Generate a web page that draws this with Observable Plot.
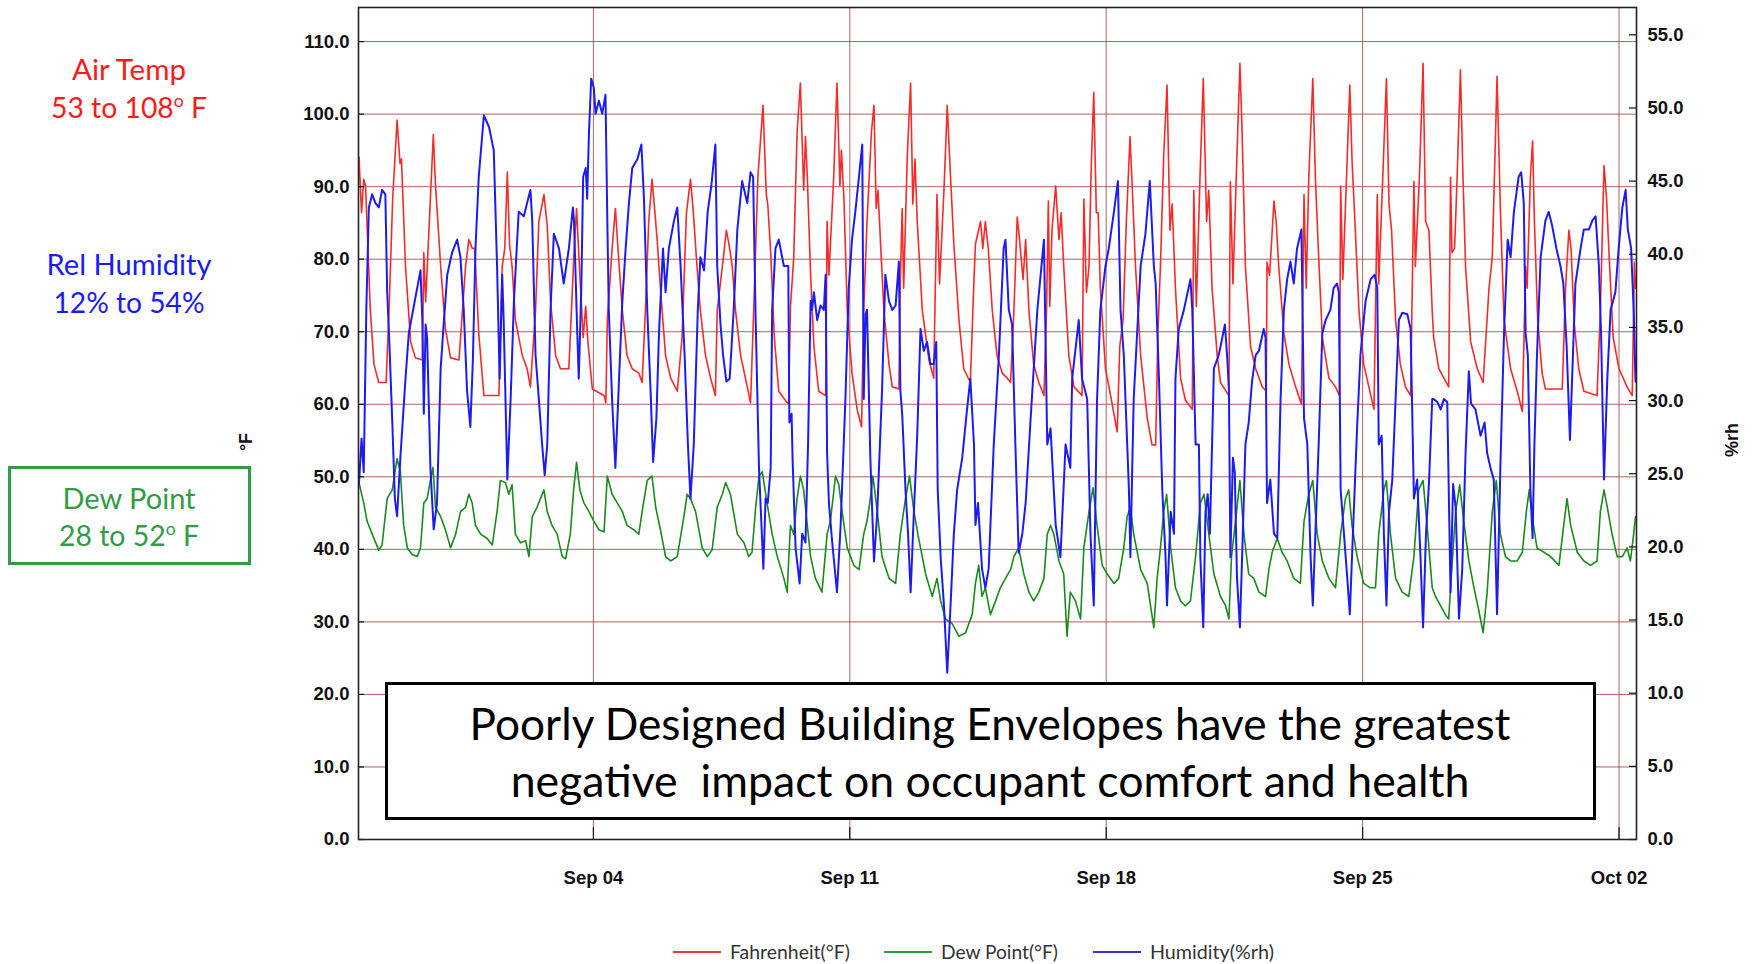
<!DOCTYPE html>
<html>
<head>
<meta charset="utf-8">
<script src="https://cdn.jsdelivr.net/npm/d3@7"></script>
<script src="https://cdn.jsdelivr.net/npm/@observablehq/plot@0.6"></script>
<style>
  html, body { margin: 0; padding: 0; background: #fff; }
  #wrap { position: relative; width: 1754px; height: 964px; overflow: hidden; font-family: Lato, "Noto Sans", sans-serif; }
  #chart { position: absolute; left: 0; top: 0; }
  .ann { position: absolute; white-space: pre; line-height: 1; transform: translate(-50%, -50%); }
  .ann sup { font-size: 0.62em; line-height: 0; vertical-align: 0.62em; }
  .lg { position: absolute; white-space: pre; line-height: 1; transform: translate(0, -50%); color: #333; font-size: 18px; }
  .lgline { position: absolute; height: 2px; transform: translate(0, -50%); }
  .axlab { position: absolute; font-family: "Liberation Sans", Arial, sans-serif; font-weight: bold; font-size: 18px; color: #111; transform: translate(-50%, -50%) rotate(-90deg); white-space: pre; line-height: 1; }
</style>
</head>
<body>
<div id="wrap">
  <div id="chart"></div>

  <div class="ann fit" data-w="114" style="left:129px; top:69px; color:#ff1a1a; font-size:27px;">Air Temp</div>
  <div class="ann fit" data-w="156" style="left:129px; top:107px; color:#ff1a1a; font-size:27px;">53 to 108<sup>o</sup> F</div>

  <div class="ann fit" data-w="165" style="left:129px; top:264px; color:#1a1aff; font-size:27px;">Rel Humidity</div>
  <div class="ann fit" data-w="151" style="left:129px; top:302px; color:#1a1aff; font-size:27px;">12% to 54%</div>

  <div style="position:absolute; left:8px; top:466px; width:243px; height:99px; box-sizing:border-box; border:3px solid #2f9c48; background:#fff;"></div>
  <div class="ann fit" data-w="133" style="left:129px; top:497px; color:#2f9c48; font-size:27px;">Dew Point</div>
  <div class="ann fit" data-w="140" style="left:129px; top:535px; color:#2f9c48; font-size:27px;">28 to 52<sup>o</sup> F</div>

  <div class="axlab" style="left:246px; top:442px;">°F</div>
  <div class="axlab" style="left:1732px; top:440px;">%rh</div>

  <div style="position:absolute; left:385px; top:682px; width:1211px; height:138px; box-sizing:border-box; border:3.5px solid #000; background:#fff;"></div>
  <div class="ann fit" data-w="1041" style="left:990px; top:723px; color:#000; font-size:40px;">Poorly Designed Building Envelopes have the greatest</div>
  <div class="ann fit" data-w="959" style="left:990px; top:780px; color:#000; font-size:40px;">negative  impact on occupant comfort and health</div>

  <div class="lgline" style="left:673px; top:952px; width:48px; background:#e8383a;"></div>
  <div class="lg fit" data-w="120" style="left:730px; top:952px;">Fahrenheit(°F)</div>
  <div class="lgline" style="left:884px; top:952px; width:48px; background:#2f9a3c;"></div>
  <div class="lg fit" data-w="117" style="left:941px; top:952px;">Dew Point(°F)</div>
  <div class="lgline" style="left:1093px; top:952px; width:48px; background:#3535d8;"></div>
  <div class="lg fit" data-w="124" style="left:1150px; top:952px;">Humidity(%rh)</div>
</div>

<script>
// ---------------- DATA (time = days since Aug 28 00:00) ----------------
const startDate = "2017-08-28";
const xTickDates = ["2017-09-04", "2017-09-11", "2017-09-18", "2017-09-25", "2017-10-02"];
const yTicksF = [0, 10, 20, 30, 40, 50, 60, 70, 80, 90, 100, 110];
const yTicksRH = [0, 5, 10, 15, 20, 25, 30, 35, 40, 45, 50, 55];

const tempF = [
[0.60,94.1],[0.67,86.4],[0.73,91.0],[0.78,90.1],[0.91,72.9],[1.01,65.5],[1.14,63.0],[1.34,63.0],[1.42,72.9],[1.52,88.3],[1.64,99.2],[1.72,93.2],[1.76,93.8],[1.87,79.0],[2.01,68.6],[2.14,66.4],[2.33,66.1],[2.37,80.9],[2.42,74.1],[2.51,84.0],[2.63,97.2],[2.69,90.1],[2.73,87.0],[2.83,79.0],[2.96,70.4],[3.10,66.4],[3.33,66.1],[3.51,79.0],[3.60,82.7],[3.69,81.5],[3.76,81.5],[3.87,69.8],[4.01,61.2],[4.42,61.2],[4.51,79.0],[4.58,81.5],[4.65,92.0],[4.71,82.1],[4.78,79.0],[4.87,71.6],[5.06,66.7],[5.19,64.9],[5.28,62.4],[5.42,72.9],[5.51,85.2],[5.65,88.9],[5.74,84.6],[5.83,74.1],[5.97,66.7],[6.10,64.9],[6.33,64.9],[6.47,80.9],
[6.54,87.0],[6.63,77.8],[6.72,69.2],[6.79,73.5],[6.85,68.6],[6.97,62.1],[7.29,61.2],[7.34,60.2],[7.38,71.6],[7.51,81.5],[7.60,87.0],[7.67,81.5],[7.79,72.9],[7.92,66.7],[8.06,64.9],[8.24,64.3],[8.33,63.0],[8.42,72.9],[8.51,85.2],[8.60,91.0],[8.67,87.0],[8.74,82.7],[8.83,76.0],[8.97,66.7],[9.11,63.6],[9.29,61.8],[9.42,69.2],[9.54,86.4],[9.65,91.0],[9.72,87.0],[9.81,80.3],[9.92,72.9],[10.06,66.7],[10.20,63.6],[10.33,61.2],[10.38,72.9],[10.52,79.0],[10.63,84.0],[10.72,81.5],[10.79,79.0],[10.88,72.9],[11.02,66.7],[11.15,63.6],[11.29,60.2],[11.38,73.5],[11.49,91.3],[11.63,101.2],[11.72,88.9],[11.76,87.6],[11.84,80.9],[11.94,69.2],[12.06,61.8],[12.29,60.2],
[12.33,60.2],[12.38,73.5],[12.47,80.3],[12.56,97.5],[12.65,104.3],[12.74,89.5],[12.79,96.9],[12.84,91.3],[12.93,77.8],[13.02,68.0],[13.15,61.8],[13.34,61.2],[13.38,85.2],[13.43,77.8],[13.56,91.3],[13.65,104.3],[13.73,90.1],[13.77,95.0],[13.84,88.3],[13.93,72.9],[14.06,64.3],[14.20,59.3],[14.32,56.9],[14.38,72.9],[14.47,85.2],[14.59,97.5],[14.66,101.2],[14.72,87.0],[14.77,89.5],[14.84,82.1],[14.93,72.9],[15.07,65.5],[15.16,62.4],[15.34,62.1],[15.38,77.2],[15.43,87.0],[15.47,76.0],[15.57,94.4],[15.66,104.3],[15.72,87.6],[15.78,93.8],[15.84,85.2],[15.98,72.9],[16.16,66.1],[16.29,63.6],[16.38,88.9],[16.45,76.6],[16.57,89.5],[16.66,101.2],[16.75,91.3],[16.84,82.1],[16.98,71.6],[17.11,64.9],[17.29,63.0],[17.39,77.2],[17.43,82.1],[17.57,85.2],[17.63,81.5],[17.70,85.2],[17.78,81.5],[17.89,72.9],[18.02,66.7],[18.16,64.3],
[18.30,63.6],[18.39,63.0],[18.48,72.9],[18.57,85.8],[18.61,84.0],[18.73,77.2],[18.80,82.7],[18.89,72.9],[19.02,65.5],[19.16,63.0],[19.30,61.2],[19.37,72.9],[19.42,88.0],[19.46,73.5],[19.52,84.0],[19.62,90.1],[19.71,82.7],[19.77,86.4],[19.84,79.0],[19.98,66.7],[20.12,62.4],[20.34,61.2],[20.39,88.3],[20.46,75.4],[20.53,79.0],[20.59,92.6],[20.66,103.0],[20.73,86.4],[20.78,86.4],[20.84,76.0],[20.98,64.9],[21.12,61.2],[21.30,56.2],[21.37,68.0],[21.46,71.6],[21.55,85.2],[21.65,96.9],[21.71,90.1],[21.80,79.0],[21.94,66.7],[22.12,58.1],[22.25,54.4],[22.35,54.4],[22.41,69.8],[22.48,79.0],[22.57,94.4],[22.66,104.0],[22.74,84.0],[22.80,87.6],[22.89,76.0],[23.03,63.6],[23.16,60.6],[23.35,59.3],[23.39,89.5],[23.46,73.5],[23.56,91.3],[23.65,104.9],[23.74,85.2],[23.80,89.5],[23.89,76.0],[24.03,66.7],
[24.12,63.0],[24.35,61.2],[24.39,90.7],[24.46,76.6],[24.55,91.3],[24.65,107.0],[24.71,97.5],[24.80,79.0],[24.94,68.0],[25.08,64.9],[25.26,62.4],[25.37,61.8],[25.39,79.6],[25.46,77.8],[25.58,88.0],[25.64,85.2],[25.71,79.0],[25.85,69.8],[25.99,65.5],[26.17,62.4],[26.33,60.0],[26.40,88.9],[26.46,76.0],[26.53,91.3],[26.64,104.9],[26.71,91.3],[26.79,81.5],[26.90,69.2],[27.08,63.6],[27.26,62.4],[27.37,61.2],[27.40,90.1],[27.46,77.2],[27.56,91.3],[27.65,104.0],[27.71,93.8],[27.79,85.2],[27.90,72.9],[28.03,65.5],[28.17,62.4],[28.31,59.3],[28.40,88.9],[28.44,76.6],[28.55,91.3],[28.65,104.9],[28.72,87.6],[28.79,84.0],[28.90,71.6],[29.03,65.5],[29.17,62.4],[29.31,61.2],[29.40,90.7],[29.44,79.0],[29.55,91.3],[29.65,107.0],[29.72,85.2],[29.81,84.0],[29.90,72.9],
[29.94,69.2],[30.08,64.9],[30.22,63.6],[30.35,62.4],[30.40,91.3],[30.44,80.9],[30.51,81.5],[30.58,91.3],[30.67,106.1],[30.74,91.3],[30.81,79.0],[30.95,68.6],[31.13,64.9],[31.29,63.0],[31.45,76.0],[31.54,80.3],[31.67,105.2],[31.76,87.0],[31.86,71.6],[32.04,64.9],[32.22,61.8],[32.36,59.0],[32.45,79.0],[32.49,76.0],[32.58,91.3],[32.64,96.3],[32.69,85.2],[32.78,71.6],[32.90,64.3],[32.99,62.1],[33.45,62.1],[33.54,76.0],[33.63,84.0],[33.69,81.5],[33.78,71.0],[33.90,64.9],[34.04,61.8],[34.40,61.2],[34.49,72.9],[34.59,92.9],[34.66,88.3],[34.72,81.5],[34.84,69.2],[35.00,64.9],[35.22,62.4],[35.36,61.2],[35.42,79.6],[35.45,76.0]
];

const humidityRH = [
[0.60,24.3],[0.67,27.4],[0.73,25.1],[0.80,36.2],[0.87,43.2],[0.96,44.1],[1.05,43.5],[1.14,43.2],[1.23,44.4],[1.32,44.1],[1.37,37.4],[1.42,34.6],[1.51,28.5],[1.58,23.3],[1.64,22.1],[1.73,26.1],[1.87,31.5],[1.96,34.6],[2.10,36.5],[2.19,37.7],[2.28,38.9],[2.33,35.5],[2.37,29.1],[2.42,35.2],[2.46,34.3],[2.55,25.4],[2.64,21.2],[2.73,23.0],[2.83,32.2],[2.92,35.5],[3.01,38.6],[3.14,40.1],[3.28,41.0],[3.37,39.8],[3.46,36.2],[3.55,30.7],[3.64,28.2],[3.71,32.8],[3.78,40.4],[3.87,45.3],[4.01,49.5],[4.15,48.7],[4.28,47.1],[4.37,39.2],[4.44,31.5],[4.51,38.6],[4.55,35.5],[4.65,24.6],[4.74,30.1],[4.83,36.8],[4.96,42.9],[5.10,42.6],[5.19,43.5],[5.28,44.4],[5.33,42.3],[5.42,33.1],[5.51,30.1],[5.60,27.0],[5.67,24.9],[5.74,27.0],[5.83,36.2],[5.92,41.4],[6.06,40.4],[6.19,38.0],[6.33,40.4],[6.44,43.2],
[6.47,42.3],[6.56,34.6],[6.60,31.5],[6.67,37.7],[6.72,45.3],[6.79,45.9],[6.83,43.8],[6.88,48.4],[6.94,52.0],[7.01,51.4],[7.06,49.6],[7.15,50.5],[7.24,49.6],[7.33,50.9],[7.38,42.3],[7.42,36.2],[7.51,30.1],[7.60,25.4],[7.70,31.5],[7.79,36.8],[7.88,40.4],[7.97,43.5],[8.06,45.9],[8.20,46.5],[8.31,47.5],[8.38,43.8],[8.47,36.2],[8.56,30.7],[8.63,25.8],[8.72,28.8],[8.79,34.6],[8.90,40.4],[8.97,37.4],[9.06,40.4],[9.20,42.3],[9.29,43.2],[9.38,39.2],[9.49,33.1],[9.58,27.0],[9.65,23.3],[9.74,27.0],[9.85,36.2],[9.92,39.8],[10.02,38.9],[10.12,42.9],[10.22,44.7],[10.33,47.5],[10.38,39.2],[10.47,35.2],[10.54,33.1],[10.63,31.3],[10.72,31.5],[10.83,36.2],[10.93,41.7],[11.06,45.0],[11.20,43.5],[11.29,45.6],[11.36,45.3],[11.43,35.5],[11.52,25.4],[11.64,18.5],[11.70,23.3],[11.76,23.0],[11.84,25.4],[11.88,36.2],[11.97,40.4],[12.06,41.0],[12.20,39.2],
[12.32,39.2],[12.35,28.5],[12.41,29.1],[12.44,25.8],[12.52,19.9],[12.63,17.5],[12.70,20.9],[12.79,20.3],[12.86,27.0],[12.93,36.8],[12.97,36.2],[13.02,37.4],[13.11,35.5],[13.20,36.5],[13.29,36.2],[13.34,38.6],[13.38,26.4],[13.43,23.0],[13.52,20.3],[13.65,16.9],[13.75,21.5],[13.88,30.1],[13.97,37.7],[14.06,41.0],[14.15,42.9],[14.25,45.3],[14.34,47.5],[14.38,30.1],[14.43,35.9],[14.47,36.2],[14.56,26.1],[14.66,19.0],[14.75,22.4],[14.88,30.7],[14.97,38.6],[15.07,36.8],[15.16,36.2],[15.25,36.5],[15.34,39.5],[15.38,30.7],[15.43,29.1],[15.52,23.9],[15.59,20.9],[15.66,16.9],[15.75,22.4],[15.84,27.6],[15.93,34.9],[16.02,33.4],[16.11,34.0],[16.20,32.5],[16.29,32.5],[16.36,34.0],[16.40,23.9],[16.48,19.3],[16.57,16.0],[16.66,11.4],[16.75,16.0],[16.84,20.9],[16.93,23.9],[17.07,26.1],[17.20,29.4],[17.29,31.5],[17.39,27.0],[17.43,21.5],[17.50,23.0],[17.61,18.5],[17.70,17.2],[17.79,18.5],[17.93,27.0],[18.07,33.1],[18.20,40.4],
[18.25,41.0],[18.34,36.2],[18.43,35.2],[18.52,27.0],[18.61,19.6],[18.71,20.9],[18.80,23.0],[18.93,28.5],[19.12,36.2],[19.30,41.0],[19.39,27.0],[19.48,28.1],[19.62,21.5],[19.75,19.3],[19.89,27.0],[20.02,25.4],[20.07,31.5],[20.25,35.5],[20.34,31.5],[20.48,30.1],[20.57,20.9],[20.66,16.0],[20.75,30.1],[20.84,36.2],[20.98,39.2],[21.07,40.4],[21.21,42.9],[21.32,45.0],[21.39,36.2],[21.48,33.1],[21.62,23.9],[21.66,19.3],[21.75,30.1],[21.94,39.2],[22.07,41.4],[22.19,45.0],[22.30,39.2],[22.35,38.0],[22.44,31.5],[22.53,23.9],[22.62,19.3],[22.66,16.0],[22.76,22.4],[22.85,20.9],[22.89,31.5],[22.98,34.9],[23.12,36.2],[23.30,38.3],[23.35,36.2],[23.44,27.0],[23.53,27.0],[23.57,19.3],[23.65,14.5],[23.71,22.4],[23.77,23.6],[23.83,20.9],[23.94,32.2],
[24.07,33.1],[24.17,34.3],[24.24,35.2],[24.30,33.1],[24.35,30.7],[24.39,19.3],[24.46,26.1],[24.51,25.1],[24.57,17.9],[24.65,14.5],[24.71,19.3],[24.80,27.0],[24.89,28.5],[24.98,31.3],[25.08,33.1],[25.17,33.4],[25.30,34.9],[25.35,34.3],[25.39,23.0],[25.48,24.6],[25.58,20.9],[25.67,20.6],[25.76,30.1],[25.85,36.2],[25.94,38.3],[26.03,39.5],[26.12,38.0],[26.21,40.4],[26.33,41.7],[26.40,28.8],[26.49,27.0],[26.58,19.3],[26.64,16.0],[26.71,20.9],[26.80,27.0],[26.90,34.6],[26.99,35.5],[27.12,36.2],[27.21,37.7],[27.30,38.0],[27.35,37.4],[27.40,23.9],[27.49,20.9],[27.58,17.9],[27.65,15.4],[27.71,19.3],[27.85,28.2],[27.94,33.1],[28.08,36.8],[28.22,38.3],[28.33,38.6],[28.40,37.7],[28.44,27.0],[28.52,27.6],[28.58,20.9],[28.65,16.0],[28.72,22.4],[28.81,24.6],[28.90,30.1],[28.99,35.5],[29.08,36.0],[29.22,35.9],[29.31,34.9],[29.40,23.3],[29.49,24.6],[29.58,19.3],[29.65,14.5],[29.73,20.9],[29.81,24.3],[29.90,30.1],
[29.94,30.1],[30.04,29.9],[30.13,29.4],[30.22,30.1],[30.31,29.9],[30.40,16.9],[30.47,24.3],[30.54,22.7],[30.63,15.1],[30.72,18.5],[30.81,26.4],[30.90,32.0],[30.96,29.8],[31.08,29.4],[31.22,27.6],[31.33,28.5],[31.40,26.4],[31.49,25.4],[31.58,24.6],[31.67,15.4],[31.76,25.4],[31.86,34.6],[31.96,41.0],[32.04,39.8],[32.13,42.9],[32.26,45.3],[32.33,45.6],[32.40,43.5],[32.45,34.6],[32.51,33.1],[32.58,23.9],[32.64,20.6],[32.69,27.0],[32.76,33.1],[32.86,39.8],[32.99,42.3],[33.08,42.9],[33.17,42.0],[33.29,40.4],[33.40,39.2],[33.48,38.0],[33.57,33.7],[33.66,27.3],[33.75,33.7],[33.81,38.0],[33.95,40.4],[34.04,41.7],[34.18,41.7],[34.27,42.3],[34.36,42.6],[34.45,39.2],[34.51,34.6],[34.59,24.6],[34.68,31.5],[34.77,36.2],[34.90,37.4],[34.99,40.4],[35.09,43.2],[35.18,44.4],[35.24,41.7],[35.33,40.4],[35.40,36.2],[35.45,31.3]
];

const dewPointF = [
[0.60,49.2],[0.73,46.4],[0.82,43.9],[0.96,42.1],[1.14,39.9],[1.23,40.6],[1.37,47.0],[1.51,48.2],[1.64,52.5],[1.73,50.7],[1.82,43.3],[1.92,40.2],[2.05,39.3],[2.19,39.0],[2.28,40.2],[2.37,46.4],[2.46,47.0],[2.55,49.5],[2.62,51.3],[2.69,45.8],[2.83,44.5],[2.96,42.7],[3.10,40.2],[3.24,42.1],[3.37,45.2],[3.51,45.8],[3.60,47.6],[3.69,46.4],[3.78,43.3],[3.92,42.1],[4.10,41.5],[4.24,40.6],[4.37,45.2],[4.46,49.5],[4.60,49.2],[4.69,47.6],[4.78,48.9],[4.87,42.1],[5.01,40.9],[5.15,41.2],[5.24,39.0],[5.33,44.5],[5.46,45.8],[5.65,48.2],[5.74,45.2],[5.87,43.3],[6.01,42.1],[6.15,39.0],[6.24,38.7],[6.37,42.1],[6.46,48.2],
[6.54,52.0],[6.63,48.2],[6.74,46.4],[6.88,45.2],[7.01,43.9],[7.15,42.7],[7.29,42.4],[7.38,50.1],[7.51,47.6],[7.65,46.4],[7.79,45.2],[7.92,43.3],[8.10,42.7],[8.24,42.1],[8.33,45.2],[8.47,49.5],[8.60,50.1],[8.70,45.8],[8.83,42.7],[8.97,39.0],[9.11,38.4],[9.29,39.0],[9.47,44.5],[9.56,47.6],[9.65,47.0],[9.79,45.2],[9.97,40.2],[10.11,39.0],[10.24,39.9],[10.38,45.8],[10.52,47.6],[10.61,49.2],[10.74,47.6],[10.93,42.1],[11.11,40.9],[11.24,39.0],[11.33,39.6],[11.43,45.8],[11.52,50.1],[11.61,50.7],[11.74,46.4],[11.88,42.1],[12.02,39.0],[12.20,36.0],[12.29,34.1],
[12.33,38.4],[12.38,43.3],[12.47,42.1],[12.56,47.0],[12.65,50.1],[12.74,48.2],[12.84,43.3],[12.93,39.0],[13.06,36.0],[13.24,34.1],[13.38,42.1],[13.47,43.9],[13.61,50.1],[13.70,48.9],[13.79,45.2],[13.93,40.2],[14.11,37.8],[14.25,37.2],[14.38,42.1],[14.47,43.9],[14.56,47.0],[14.63,50.1],[14.75,45.2],[14.88,39.0],[15.07,36.0],[15.25,35.3],[15.38,42.1],[15.52,47.0],[15.63,50.1],[15.75,45.2],[15.88,41.5],[16.07,36.6],[16.25,33.5],[16.38,36.0],[16.48,32.9],[16.61,30.4],[16.79,29.8],[16.98,28.0],[17.16,28.5],[17.34,31.0],[17.43,35.3],[17.52,37.8],[17.61,33.5],[17.70,34.7],[17.84,31.0],[17.98,32.9],[18.11,34.7],
[18.25,36.0],[18.39,37.2],[18.48,39.0],[18.61,40.2],[18.75,36.6],[18.89,34.1],[19.02,32.9],[19.16,34.1],[19.30,36.0],[19.39,42.1],[19.48,43.3],[19.57,42.1],[19.71,38.4],[19.84,36.6],[19.93,28.0],[20.02,34.1],[20.16,32.9],[20.30,30.4],[20.39,40.2],[20.53,45.2],[20.64,48.5],[20.75,43.3],[20.89,37.8],[21.03,36.6],[21.21,35.3],[21.34,36.0],[21.48,40.2],[21.57,44.5],[21.66,45.8],[21.75,42.1],[21.94,37.2],[22.12,35.3],[22.30,29.2],[22.39,36.0],[22.48,40.2],[22.57,45.2],[22.65,47.6],[22.76,40.2],[22.89,34.7],[23.03,32.9],[23.16,32.2],[23.30,32.9],[23.44,39.0],[23.57,46.4],[23.67,47.6],[23.80,42.1],[23.94,36.6],
[24.12,33.5],[24.26,32.2],[24.35,30.4],[24.42,39.0],[24.53,43.9],[24.65,49.5],[24.76,42.1],[24.89,36.6],[25.03,36.0],[25.17,34.1],[25.35,33.5],[25.44,37.2],[25.53,39.6],[25.67,41.5],[25.80,39.6],[25.94,38.4],[26.12,36.0],[26.30,35.3],[26.40,43.9],[26.53,47.6],[26.64,49.5],[26.76,42.1],[26.90,38.4],[27.08,36.0],[27.26,34.7],[27.40,42.1],[27.53,47.0],[27.62,48.2],[27.71,43.3],[27.85,39.0],[28.03,35.3],[28.21,34.7],[28.35,34.7],[28.44,42.1],[28.58,48.2],[28.65,49.5],[28.76,42.1],[28.90,36.0],[29.08,34.1],[29.26,33.5],[29.40,39.0],[29.53,48.2],[29.65,49.5],[29.76,43.3],[29.90,34.7],
[29.99,33.5],[30.13,32.2],[30.26,31.0],[30.35,30.4],[30.40,34.7],[30.54,45.2],[30.65,48.9],[30.76,43.9],[30.90,38.4],[31.04,34.7],[31.17,31.6],[31.29,28.5],[31.40,34.1],[31.54,45.2],[31.65,49.5],[31.76,42.1],[31.90,39.0],[32.04,38.4],[32.22,38.4],[32.36,39.6],[32.47,45.2],[32.55,48.2],[32.63,44.5],[32.76,40.2],[32.95,39.6],[33.13,39.0],[33.36,37.8],[33.49,43.3],[33.58,47.0],[33.68,43.3],[33.86,39.6],[34.04,38.4],[34.22,37.8],[34.40,38.4],[34.49,45.2],[34.59,48.2],[34.68,45.8],[34.81,42.1],[34.95,39.0],[35.09,39.0],[35.22,40.2],[35.31,38.4],[35.40,42.1],[35.45,44.5]
];

// visible time window (days since start)
const xWindow = [0.587, 35.477];
// top of the °F axis and the °F-per-%rh factor between the two axes
const yTopF = 114.7;
const rhToF = 2.017;

// ---------------- CHART ----------------
const base = new Date(startDate + "T00:00:00Z").getTime();
const toDate = t => new Date(base + t * 864e5);
const rows = pts => pts.map(([t, v]) => ({date: toDate(t), v}));
const xTicks = xTickDates.map(s => new Date(s + "T00:00:00Z"));
const rhTicksAsF = yTicksRH.map(h => h * rhToF);

const W = 1754, H = 920, ML = 358, MR = 118, MT = 7, MB = 81;
const fw = W - ML - MR, fh = H - MT - MB;
const gridCol = "#9e4848";
const axisFont = {fontSize: 18.5, fontWeight: "bold", color: "#111"};

const chart = Plot.plot({
  width: W, height: H,
  marginLeft: ML, marginRight: MR, marginTop: MT, marginBottom: MB,
  style: {fontFamily: "'Liberation Sans', Arial, sans-serif", background: "#fff", overflow: "visible"},
  x: {type: "utc", domain: xWindow.map(toDate), axis: null},
  y: {domain: [0, yTopF], axis: null},
  marks: [
    Plot.ruleY(yTicksF.filter(v => v > 0), {stroke: gridCol, strokeWidth: 1, strokeOpacity: 0.85}),
    Plot.ruleX(xTicks, {stroke: gridCol, strokeWidth: 1, strokeOpacity: 0.85}),
    Plot.line(rows(tempF), {x: "date", y: "v", stroke: "#f52a2a", strokeWidth: 1.6}),
    Plot.line(rows(dewPointF), {x: "date", y: "v", stroke: "#1b8a1b", strokeWidth: 1.6}),
    Plot.line(rows(humidityRH), {x: "date", y: d => d.v * rhToF, stroke: "#1c1cf2", strokeWidth: 2}),
    Plot.tickY(yTicksF, {y: d => d, insetRight: fw - 6, stroke: "#111", strokeWidth: 1.2}),
    Plot.tickY(rhTicksAsF, {y: d => d, insetLeft: fw - 7, stroke: "#111", strokeWidth: 1.2}),
    Plot.tickX(xTicks, {x: d => d, insetTop: fh - 12, stroke: "#111", strokeWidth: 1.2}),
    Plot.axisY(yTicksF, {anchor: "left", tickSize: 0, tickPadding: 9, tickFormat: d => d.toFixed(1), label: null, ...axisFont}),
    Plot.axisY(rhTicksAsF, {anchor: "right", tickSize: 0, tickPadding: 11, tickFormat: d => (d / rhToF).toFixed(1), label: null, ...axisFont}),
    Plot.axisX(xTicks, {anchor: "bottom", tickSize: 0, tickPadding: 31, tickFormat: d3.utcFormat("%b %d"), label: null, ...axisFont}),
    Plot.frame({stroke: "#222", strokeWidth: 1.6})
  ]
});
document.getElementById("chart").appendChild(chart);

// fit annotation texts to the widths measured on the reference
function fit(el) {
  const target = +el.dataset.w;
  const w = el.getBoundingClientRect().width;
  const fs = parseFloat(getComputedStyle(el).fontSize);
  if (w > 0) el.style.fontSize = (fs * target / w).toFixed(2) + "px";
}
document.querySelectorAll(".fit").forEach(fit);
</script>
</body>
</html>
